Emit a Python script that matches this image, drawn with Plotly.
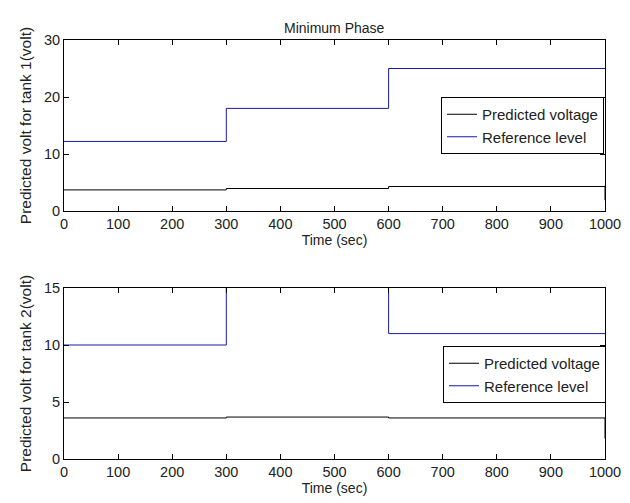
import plotly.graph_objects as go

# Data
t = [0, 300, 600, 1000, 1000]
pred1 = [3.7, 3.95, 4.3, 4.3, 1.9]
ref1 = [12.2, 18, 25, 25, 25]
pred2 = [3.6, 3.68, 3.6, 3.6, 1.8]
ref2 = [10, 20, 11, 11, 11]
xticks = [0, 100, 200, 300, 400, 500, 600, 700, 800, 900, 1000]
yticks1 = [0, 10, 20, 30]
yticks2 = [0, 5, 10, 15]

W, H = 630, 503
FONT = "Liberation Sans, Arial, sans-serif"
BLUE = "#1a1aa8"
TXT = "#222"

fig = go.Figure()
fig.add_trace(go.Scatter(x=t, y=pred1, mode="lines", line=dict(color="black", width=1, shape="hv"),
                         name="Predicted voltage", xaxis="x", yaxis="y", legend="legend"))
fig.add_trace(go.Scatter(x=t, y=ref1, mode="lines", line=dict(color=BLUE, width=1, shape="hv"),
                         name="Reference level", xaxis="x", yaxis="y", legend="legend"))
fig.add_trace(go.Scatter(x=t, y=pred2, mode="lines", line=dict(color="black", width=1, shape="hv"),
                         name="Predicted voltage", xaxis="x2", yaxis="y2", legend="legend2"))
fig.add_trace(go.Scatter(x=t, y=ref2, mode="lines", line=dict(color=BLUE, width=1, shape="hv"),
                         name="Reference level", xaxis="x2", yaxis="y2", legend="legend2"))

xd = [64 / W, 605 / W]
yd1 = [1 - 211 / H, 1 - 40 / H]
yd2 = [1 - 459 / H, 1 - 288 / H]

axcommon = dict(showgrid=False, zeroline=False, showline=True, linecolor="black", linewidth=1,
                mirror="ticks", ticks="inside", ticklen=5, tickcolor="black", automargin=False,
                tickfont=dict(family=FONT, size=14.5, color=TXT))
xtitlefont = dict(family=FONT, size=14, color=TXT)
ytitlefont = dict(family=FONT, size=15.5, color=TXT)
legfont = dict(family=FONT, size=15, color=TXT)

fig.update_layout(
    width=W, height=H, margin=dict(l=0, r=0, t=0, b=0, autoexpand=False),
    paper_bgcolor="white", plot_bgcolor="white",
    font=dict(family=FONT, size=14, color=TXT),
    xaxis=dict(domain=xd, anchor="y", range=[0, 1000], tickvals=xticks,
               title=dict(text="Time (sec)", standoff=0, font=xtitlefont), **axcommon),
    yaxis=dict(domain=yd1, anchor="x", range=[0, 30], tickvals=yticks1,
               title=dict(text="Predicted volt for tank 1(volt)", standoff=8, font=ytitlefont), **axcommon),
    xaxis2=dict(domain=xd, anchor="y2", range=[0, 1000], tickvals=xticks,
                title=dict(text="Time (sec)", standoff=0, font=xtitlefont), **axcommon),
    yaxis2=dict(domain=yd2, anchor="x2", range=[0, 15], tickvals=yticks2,
                title=dict(text="Predicted volt for tank 2(volt)", standoff=8, font=ytitlefont), **axcommon),
    legend=dict(x=604 / W, xanchor="right", y=1 - 97 / H, yanchor="top",
                bordercolor="black", borderwidth=1, bgcolor="white",
                font=legfont, tracegroupgap=0, itemwidth=30),
    legend2=dict(x=606 / W, xanchor="right", y=1 - 346 / H, yanchor="top",
                 bordercolor="black", borderwidth=1, bgcolor="white",
                 font=legfont, tracegroupgap=0, itemwidth=30),
    annotations=[dict(text="Minimum Phase", x=(xd[0] + xd[1]) / 2, y=1 - 18 / H,
                      xref="paper", yref="paper", showarrow=False,
                      font=dict(family=FONT, size=14, color=TXT))],
)

fig.write_html("out.html")
